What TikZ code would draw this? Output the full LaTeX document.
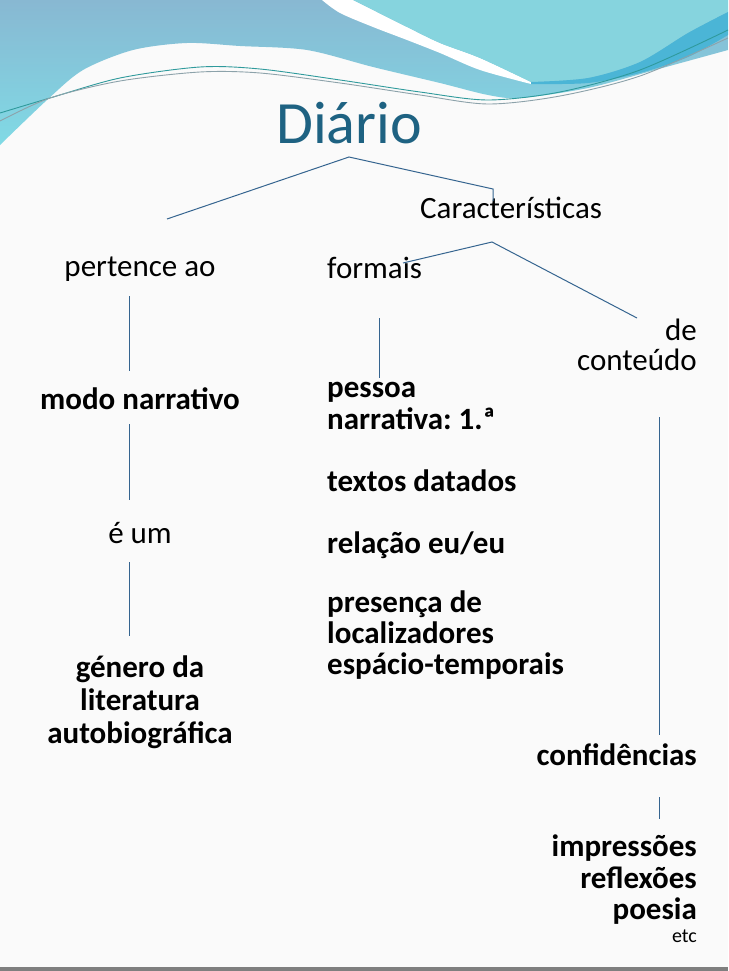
\documentclass[tikz,border=0pt]{standalone}
\usepackage{fontspec}
\setmainfont{Carlito}
\definecolor{bgcol}{HTML}{FAFAFA}
\definecolor{bandtop}{HTML}{88B8D2}
\definecolor{bandbot}{HTML}{80DAE5}
\definecolor{bandright}{HTML}{86D4DE}
\definecolor{stripe}{HTML}{4BB5D6}
\definecolor{tealline}{HTML}{2F9A9C}
\definecolor{grayline}{HTML}{8CA2AA}
\definecolor{titleblue}{HTML}{1E6282}
\definecolor{linkblue}{HTML}{35648F}
\definecolor{footgray}{HTML}{7F7F7F}
\frenchspacing
\begin{document}
\begin{tikzpicture}[x=1pt,y=-1pt,
  conn/.style={draw=linkblue, line width=1pt},
  reg/.style={font=\fontsize{31}{33}\selectfont, inner sep=0pt, text=black},
  bld/.style={font=\fontsize{31}{33}\selectfont\bfseries, inner sep=0pt, text=black},
  wave/.style={line width=0.9pt}
]
\useasboundingbox (0,0) rectangle (728,971);
\fill[bgcol] (0,0) rectangle (728,971);
% decorative top bands
\shade[top color=bandtop, bottom color=bandbot]
  (0,0) -- (728,0) -- (728,50) -- plot[smooth] coordinates {(728,50) (655,70) (588,88) (521,98) (488,95) (440,83) (373,67) (307,50) (240,46) (187,43) (133,50) (83,70) (47,100) (0,145)} -- cycle;
\fill[white] plot[smooth] coordinates {(322,0) (340,13) (373,27) (407,40) (440,53) (480,70) (531,84)}
  -- plot[smooth] coordinates {(531,82) (480,58) (440,43) (407,27) (373,10) (353,0)} -- cycle;
\fill[bandright] plot[smooth] coordinates {(353,0) (373,10) (407,27) (440,43) (480,58) (531,82)}
  -- plot[smooth] coordinates {(531,82) (588,78) (640,62) (688,33) (728,12)} -- (728,0) -- cycle;
\fill[stripe] plot[smooth] coordinates {(531,82) (588,78) (640,62) (688,33) (728,12)}
  -- (728,35) -- plot[smooth] coordinates {(728,35) (688,57) (640,73) (588,83) (531,84)} -- cycle;
\draw[wave, tealline] plot[smooth] coordinates {(0,113) (50,98) (120,78) (200,67) (260,69) (340,80) (420,92) (488,100) (560,92) (640,70) (728,30)};
\draw[wave, grayline] plot[smooth] coordinates {(0,121) (50,98) (120,81) (200,72) (260,73) (340,83) (420,95) (488,104) (560,96) (640,76) (728,38)};
% footer line
\fill[footgray] (0,967) rectangle (728,971);
% texts
\node[font=\fontsize{60}{60}\selectfont, text=titleblue, inner sep=0pt, anchor=base west] (title) at (276,143) {Diário};
\node[reg, anchor=base west] (carac) at (420,218) {Características};
\node[reg, anchor=base] (pert) at (140,276) {pertence ao};
\node[reg, anchor=base west] (formais) at (327,278) {formais};
\node[reg, anchor=base east] (de) at (697,340) {de};
\node[reg, anchor=base east] (conteudo) at (697,370) {conteúdo};
\node[bld, anchor=base] (modo) at (140,409) {modo narrativo};
\node[bld, anchor=base west] (pessoa) at (327,397) {pessoa};
\node[bld, anchor=base west] (narr) at (327,429) {narrativa: 1.ª};
\node[bld, anchor=base west] (textos) at (327,491) {textos datados};
\node[bld, anchor=base west] (relacao) at (327,553) {relação eu/eu};
\node[bld, anchor=base west] (presenca) at (327,612) {presença de};
\node[bld, anchor=base west] (local) at (327,643) {localizadores};
\node[bld, anchor=base west] (espacio) at (327,674) {espácio-temporais};
\node[reg, anchor=base] (eum) at (140,543) {é um};
\node[bld, anchor=base] (genero) at (140,677) {género da};
\node[bld, anchor=base] (lit) at (140,710) {literatura};
\node[bld, anchor=base] (auto) at (140,743) {autobiográfica};
\node[bld, anchor=base east] (conf) at (697,765) {confidências};
\node[bld, anchor=base east] (impr) at (697,856) {impressões};
\node[bld, anchor=base east] (refl) at (697,888) {reflexões};
\node[bld, anchor=base east] (poesia) at (697,919) {poesia};
\node[font=\fontsize{20}{20}\selectfont, text=black, inner sep=0pt, anchor=base east] (etc) at (697,942) {etc};
% connector end points
\coordinate (apexA) at (349,157);
\coordinate (leftA) at (167,219);
\coordinate (rightA) at (493,189);
\coordinate (rightAb) at (493,201);
\coordinate (apexB) at (492,242);
\coordinate (leftB) at (403,263);
\coordinate (rightB) at (637,318);
\coordinate (p1a) at (129,296); \coordinate (p1b) at (129,371);
\coordinate (p2a) at (129,424); \coordinate (p2b) at (129,500);
\coordinate (p3a) at (129,562); \coordinate (p3b) at (129,636);
\coordinate (f1a) at (379,318); \coordinate (f1b) at (379,378);
\coordinate (c1a) at (659,417); \coordinate (c1b) at (659,735);
\coordinate (c2a) at (659,797); \coordinate (c2b) at (659,819);
% connectors
\draw[conn] (leftA) -- (apexA) -- (rightA) -- (rightAb);
\draw[conn] (leftB) -- (apexB) -- (rightB);
\draw[conn] (p1a) -- (p1b);
\draw[conn] (p2a) -- (p2b);
\draw[conn] (p3a) -- (p3b);
\draw[conn] (f1a) -- (f1b);
\draw[conn] (c1a) -- (c1b);
\draw[conn] (c2a) -- (c2b);
\end{tikzpicture}
\end{document}
